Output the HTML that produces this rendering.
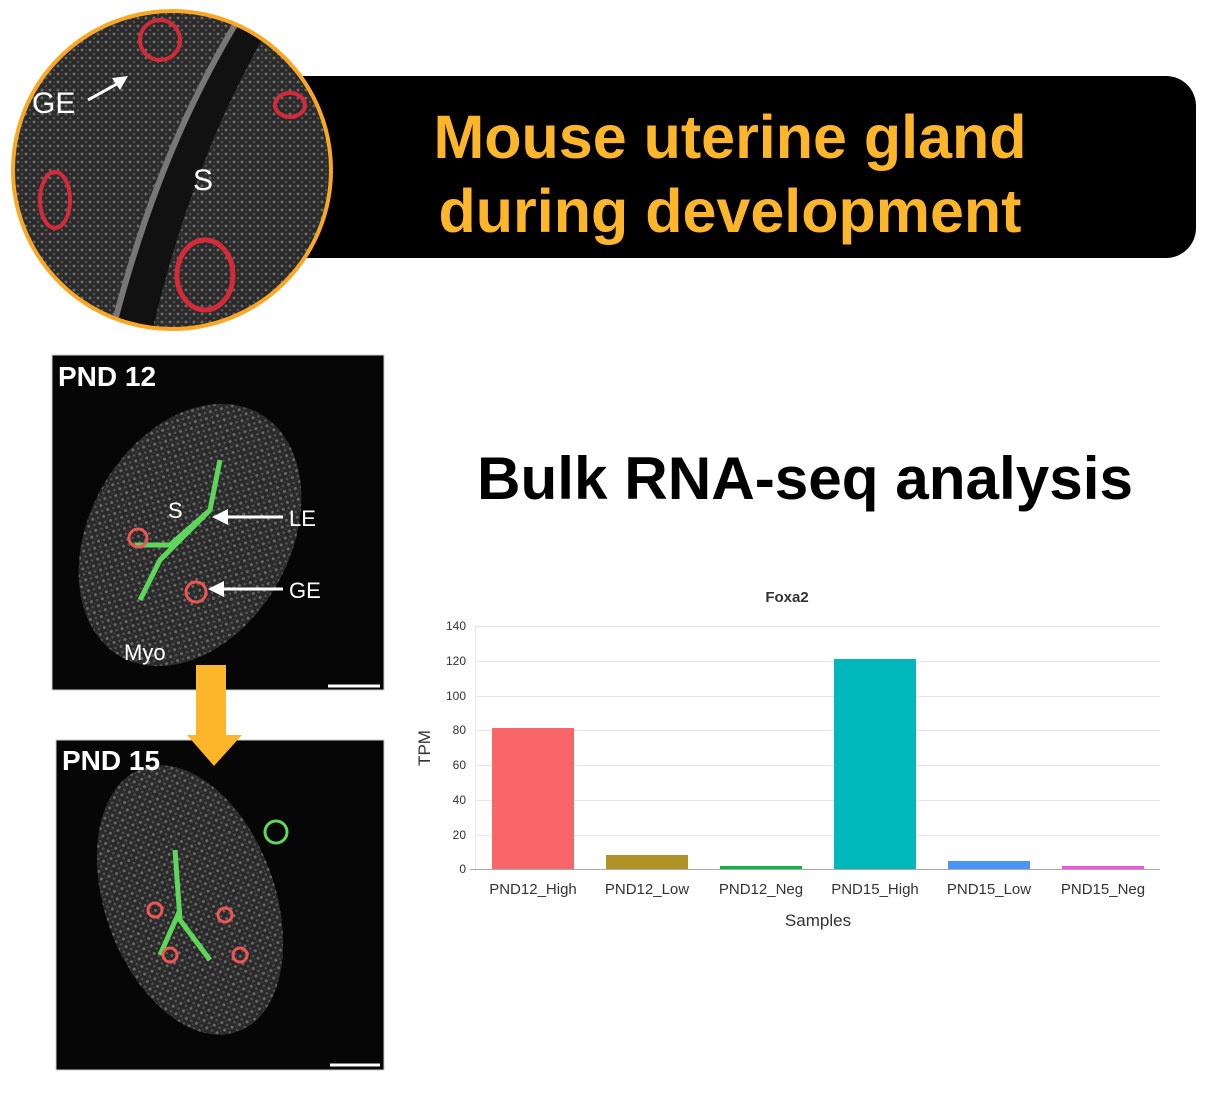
<!DOCTYPE html>
<html><head><meta charset="utf-8"><style>
body{margin:0;width:1214px;height:1116px;background:#fff;position:relative;overflow:hidden;font-family:"Liberation Sans",sans-serif}
.abs{position:absolute}
</style></head><body>
<div class="abs" style="left:280px;top:76px;width:916px;height:182px;background:#000;border-radius:0 30px 30px 0"></div>
<div class="abs" style="left:380px;top:100px;width:700px;text-align:center;color:#fdb52a;font-weight:bold;font-size:61px;line-height:74px">Mouse uterine gland<br>during development</div>
<svg class="abs" style="left:0;top:0" width="1214" height="1116">
<defs>
<pattern id="noise" width="8" height="8" patternUnits="userSpaceOnUse"><rect width="8" height="8" fill="#2a2a2a"/><circle cx="2" cy="2" r="1.5" fill="#6a6a6a"/><circle cx="6" cy="6" r="1.3" fill="#555"/><circle cx="6" cy="2" r="0.9" fill="#444"/></pattern>
<clipPath id="cc"><circle cx="172" cy="170" r="159"/></clipPath>
</defs>
<g clip-path="url(#cc)">
<rect x="0" y="0" width="340" height="340" fill="url(#noise)"/>
<path d="M250 0 C200 80 150 180 110 340 L150 340 C185 190 230 90 285 0Z" fill="#111"/>
<path d="M250 0 C200 80 150 180 110 340" stroke="#777" stroke-width="6" fill="none"/>
<ellipse cx="205" cy="275" rx="28" ry="35" fill="none" stroke="#d62a3a" stroke-width="5"/>
<ellipse cx="55" cy="200" rx="15" ry="28" fill="none" stroke="#d62a3a" stroke-width="4"/>
<ellipse cx="290" cy="105" rx="15" ry="12" fill="none" stroke="#d62a3a" stroke-width="4"/>
<ellipse cx="160" cy="40" rx="20" ry="20" fill="none" stroke="#d62a3a" stroke-width="4"/>
</g>
<circle cx="172" cy="170" r="159" fill="none" stroke="#f9a826" stroke-width="4"/>
<text x="32" y="113" fill="#fff" font-size="30">GE</text>
<line x1="88" y1="100" x2="124" y2="80" stroke="#fff" stroke-width="3"/>
<polygon points="128,76 112,78 120,90" fill="#fff"/>
<text x="193" y="190" fill="#fff" font-size="30">S</text>

<rect x="52" y="355" width="332" height="335" fill="#060606" stroke="#ccc"/>
<ellipse cx="190" cy="535" rx="100" ry="140" transform="rotate(30 190 535)" fill="url(#noise)"/>
<path d="M220 460 L210 510 L160 560 L140 600 M210 510 L170 545 L135 545" stroke="#5dd65a" stroke-width="5" fill="none"/>
<circle cx="138" cy="538" r="9" fill="none" stroke="#e55" stroke-width="3"/>
<circle cx="196" cy="592" r="10" fill="none" stroke="#e55" stroke-width="3"/>
<text x="58" y="386" fill="#fff" font-size="28" font-weight="bold">PND 12</text>
<text x="168" y="518" fill="#fff" font-size="22">S</text>
<text x="289" y="526" fill="#fff" font-size="22">LE</text>
<text x="289" y="598" fill="#fff" font-size="22">GE</text>
<text x="124" y="660" fill="#fff" font-size="22">Myo</text>
<line x1="225" y1="517" x2="283" y2="517" stroke="#fff" stroke-width="3"/><polygon points="212,517 228,509 228,525" fill="#fff"/>
<line x1="222" y1="589" x2="283" y2="589" stroke="#fff" stroke-width="3"/><polygon points="208,589 224,581 224,597" fill="#fff"/>
<line x1="328" y1="686" x2="380" y2="686" stroke="#fff" stroke-width="3"/>

<rect x="56" y="740" width="328" height="330" fill="#060606" stroke="#ccc"/>
<ellipse cx="190" cy="900" rx="85" ry="140" transform="rotate(-20 190 900)" fill="url(#noise)"/>
<path d="M175 850 L180 920 L210 960 M180 910 L160 955" stroke="#5dd65a" stroke-width="5" fill="none"/>
<circle cx="276" cy="832" r="11" fill="none" stroke="#5dd65a" stroke-width="3"/>
<circle cx="155" cy="910" r="7" fill="none" stroke="#e55" stroke-width="3"/>
<circle cx="225" cy="915" r="7" fill="none" stroke="#e55" stroke-width="3"/>
<circle cx="240" cy="955" r="7" fill="none" stroke="#e55" stroke-width="3"/>
<circle cx="170" cy="955" r="7" fill="none" stroke="#e55" stroke-width="3"/>
<text x="62" y="770" fill="#fff" font-size="28" font-weight="bold">PND 15</text>
<line x1="330" y1="1065" x2="380" y2="1065" stroke="#fff" stroke-width="3"/>

<rect x="196" y="665" width="30" height="72" fill="#fdb52a"/>
<polygon points="187,735 242,735 214,766" fill="#fdb52a"/>

<g font-size="12" fill="#333" text-anchor="end">
<text x="466" y="630">140</text><text x="466" y="665">120</text><text x="466" y="700">100</text><text x="466" y="734">80</text><text x="466" y="769">60</text><text x="466" y="804">40</text><text x="466" y="839">20</text><text x="466" y="873">0</text>
</g>
<g stroke="#e6e6e6" stroke-width="1">
<line x1="475" y1="626.5" x2="1160" y2="626.5"/><line x1="475" y1="661.5" x2="1160" y2="661.5"/><line x1="475" y1="696.5" x2="1160" y2="696.5"/><line x1="475" y1="730.5" x2="1160" y2="730.5"/><line x1="475" y1="765.5" x2="1160" y2="765.5"/><line x1="475" y1="800.5" x2="1160" y2="800.5"/><line x1="475" y1="835.5" x2="1160" y2="835.5"/>
<line x1="475.5" y1="626" x2="475.5" y2="869"/>
</g>
<rect x="492" y="728" width="82" height="141" fill="#f8666a"/>
<rect x="606" y="855" width="82" height="14" fill="#b19227"/>
<rect x="720" y="866" width="82" height="3" fill="#0fb347"/>
<rect x="834" y="659" width="82" height="210" fill="#00b8bc"/>
<rect x="948" y="861" width="82" height="8" fill="#4b94f8"/>
<rect x="1062" y="866" width="82" height="3" fill="#f252dc"/>
<line x1="470" y1="869.5" x2="1160" y2="869.5" stroke="#aaa"/>
<g font-size="15" fill="#333" text-anchor="middle">
<text x="533" y="894">PND12_High</text><text x="647" y="894">PND12_Low</text><text x="761" y="894">PND12_Neg</text><text x="875" y="894">PND15_High</text><text x="989" y="894">PND15_Low</text><text x="1103" y="894">PND15_Neg</text>
<text x="818" y="926" font-size="17">Samples</text>
<text x="787" y="602" font-weight="bold">Foxa2</text>
</g>
<text x="0" y="0" font-size="17" fill="#333" text-anchor="middle" transform="translate(430 748) rotate(-90)">TPM</text>
<text x="805" y="499" font-size="60" font-weight="bold" fill="#000" text-anchor="middle" textLength="656" lengthAdjust="spacingAndGlyphs">Bulk RNA-seq analysis</text>
</svg>
</body></html>
